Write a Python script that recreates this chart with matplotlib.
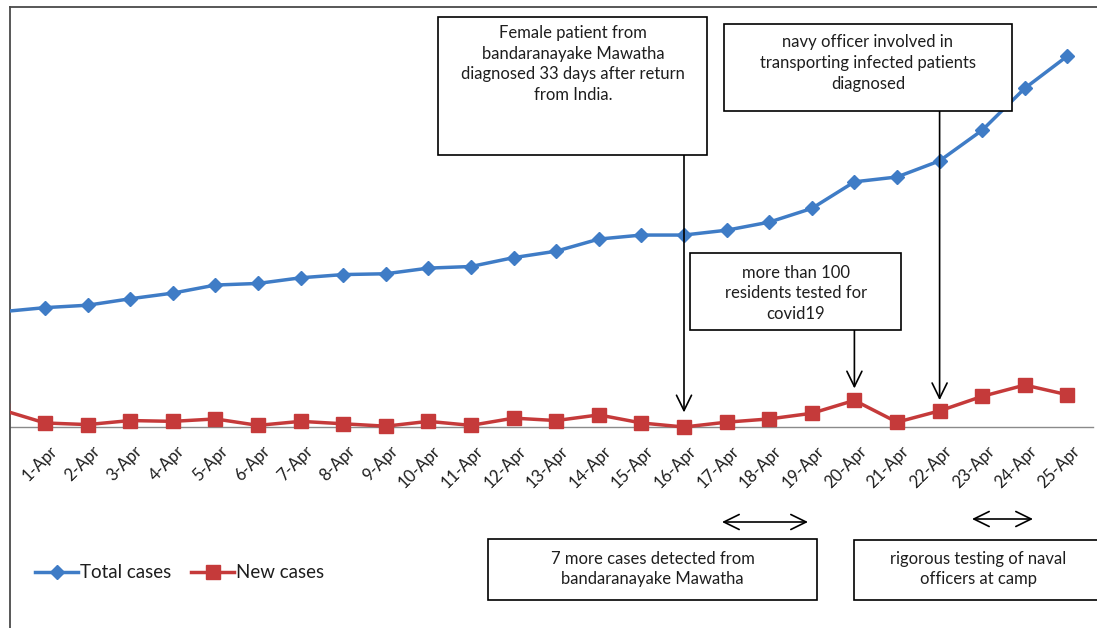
import numpy as np
import matplotlib
matplotlib.use("Agg")
import matplotlib.pyplot as plt
from matplotlib.patches import Rectangle, FancyArrowPatch
from matplotlib.transforms import offset_copy

plt.rcParams['font.family'] = ['Lato', 'DejaVu Sans']

# daily figures, 31 March to 25 April
dates = ['31-Mar'] + [f'{d}-Apr' for d in range(1, 26)]
total_cases = [143, 148, 151, 159, 166, 176, 178, 185, 189, 190, 197, 199, 210,
               218, 233, 238, 238, 244, 254, 271, 304, 310, 330, 368, 420, 460]
new_cases = [21, 5, 3, 8, 7, 10, 2, 7, 4, 1, 7, 2, 11,
             8, 15, 5, 0, 6, 10, 17, 33, 6, 20, 38, 52, 40]

W, H = 1097, 628
BLUE = '#3f7cc6'
RED = '#c53a3a'
TXT = '#1e1e1e'

fig = plt.figure(figsize=(W / 100, H / 100), dpi=100)

# plot area in pixels: left edge 10, top edge 7, runs off right and bottom
ax = fig.add_axes([10 / W, 0, (W - 10) / W, (H - 7) / H])
x0_px, step_px = 2.4, 42.6      # centre of first category, category width
base_px, px_per_case = 427, 0.8065
ax.set_xlim((10 - x0_px) / step_px, (W - x0_px) / step_px)
ax.set_ylim((base_px - H) / px_per_case, (base_px - 7) / px_per_case)

x = np.arange(len(dates))
ax.axhline(0, xmin=0, xmax=(1093 - 10) / (W - 10), color='#8a8a8a', lw=1.0, zorder=1)
ax.plot(x, total_cases, color=BLUE, lw=2.5, marker='D', ms=7.5,
        label='Total cases', zorder=3)
ax.plot(x, new_cases, color=RED, lw=2.5, marker='s', ms=9.5,
        label='New cases', zorder=3)

for side in ['right', 'bottom']:
    ax.spines[side].set_visible(False)
for side in ['left', 'top']:
    ax.spines[side].set_color('#4a4a4a')
    ax.spines[side].set_linewidth(1.3)
ax.set_xticks([])
ax.set_yticks([])

# slanted category labels under the zero line
lab_tr = offset_copy(ax.transData, fig=fig, x=4, y=-16, units='dots')
for xi, lab in zip(x[1:], dates[1:]):
    ax.text(xi, 0, lab, transform=lab_tr, rotation=45, rotation_mode='anchor',
            ha='right', va='top', fontsize=12, color=TXT)

fig.legend(loc='center left', bbox_to_anchor=(35 / W, 1 - 573 / H),
           ncol=2, frameon=False, fontsize=13.5, handlelength=2.3,
           handletextpad=0.1, columnspacing=1.05, borderpad=0,
           borderaxespad=0, labelcolor=TXT)


def box(x0, y0, x1, y1, text, cy, cx=None):
    fig.add_artist(Rectangle((x0 / W, 1 - y1 / H), (x1 - x0) / W, (y1 - y0) / H,
                             transform=fig.transFigure, fc='white', ec='black',
                             lw=1.2, zorder=5))
    if cx is None:
        cx = (x0 + x1) / 2
    fig.text(cx / W, 1 - cy / H, text, ha='center', va='center', fontsize=12,
             color=TXT, linespacing=1.35, zorder=6)


box(438, 17, 707, 155,
    'Female patient from\nbandaranayake Mawatha\ndiagnosed 33 days after return\nfrom India.',
    64, 573)
box(724, 24, 1012, 111,
    'navy officer involved in\ntransporting infected patients\ndiagnosed', 63, 868)
box(690, 253, 901, 330,
    'more than 100\nresidents tested for\ncovid19', 293.5, 796)
box(488, 539, 817, 600,
    '7 more cases detected from\nbandaranayake Mawatha', 569)
box(854, 540, 1110, 600,
    'rigorous testing of naval\nofficers at camp', 569, 978)

# pointers from the boxes down to the daily counts
head = '->, head_length=0.55, head_width=0.27'
for day, top_px, gap in [(16, 155, 10.5), (22, 111, 7.7), (20, 330, 8.6)]:
    ax.annotate('', xy=(day, new_cases[day]), xytext=(day, H - top_px),
                textcoords=('data', 'figure pixels'),
                arrowprops=dict(arrowstyle=head, color='black', lw=1.2,
                                shrinkA=0, shrinkB=gap, mutation_scale=20),
                zorder=6)

# spans marked above the lower boxes
for xa, xb, yy in [(722, 808, 522), (972, 1033, 519)]:
    fig.add_artist(FancyArrowPatch((xa / W, 1 - yy / H), (xb / W, 1 - yy / H),
                                   transform=fig.transFigure,
                                   arrowstyle='<->, head_length=0.55, head_width=0.27',
                                   mutation_scale=20, color='black', lw=1.2,
                                   shrinkA=0, shrinkB=0))

fig.savefig('out.png', dpi=100)
